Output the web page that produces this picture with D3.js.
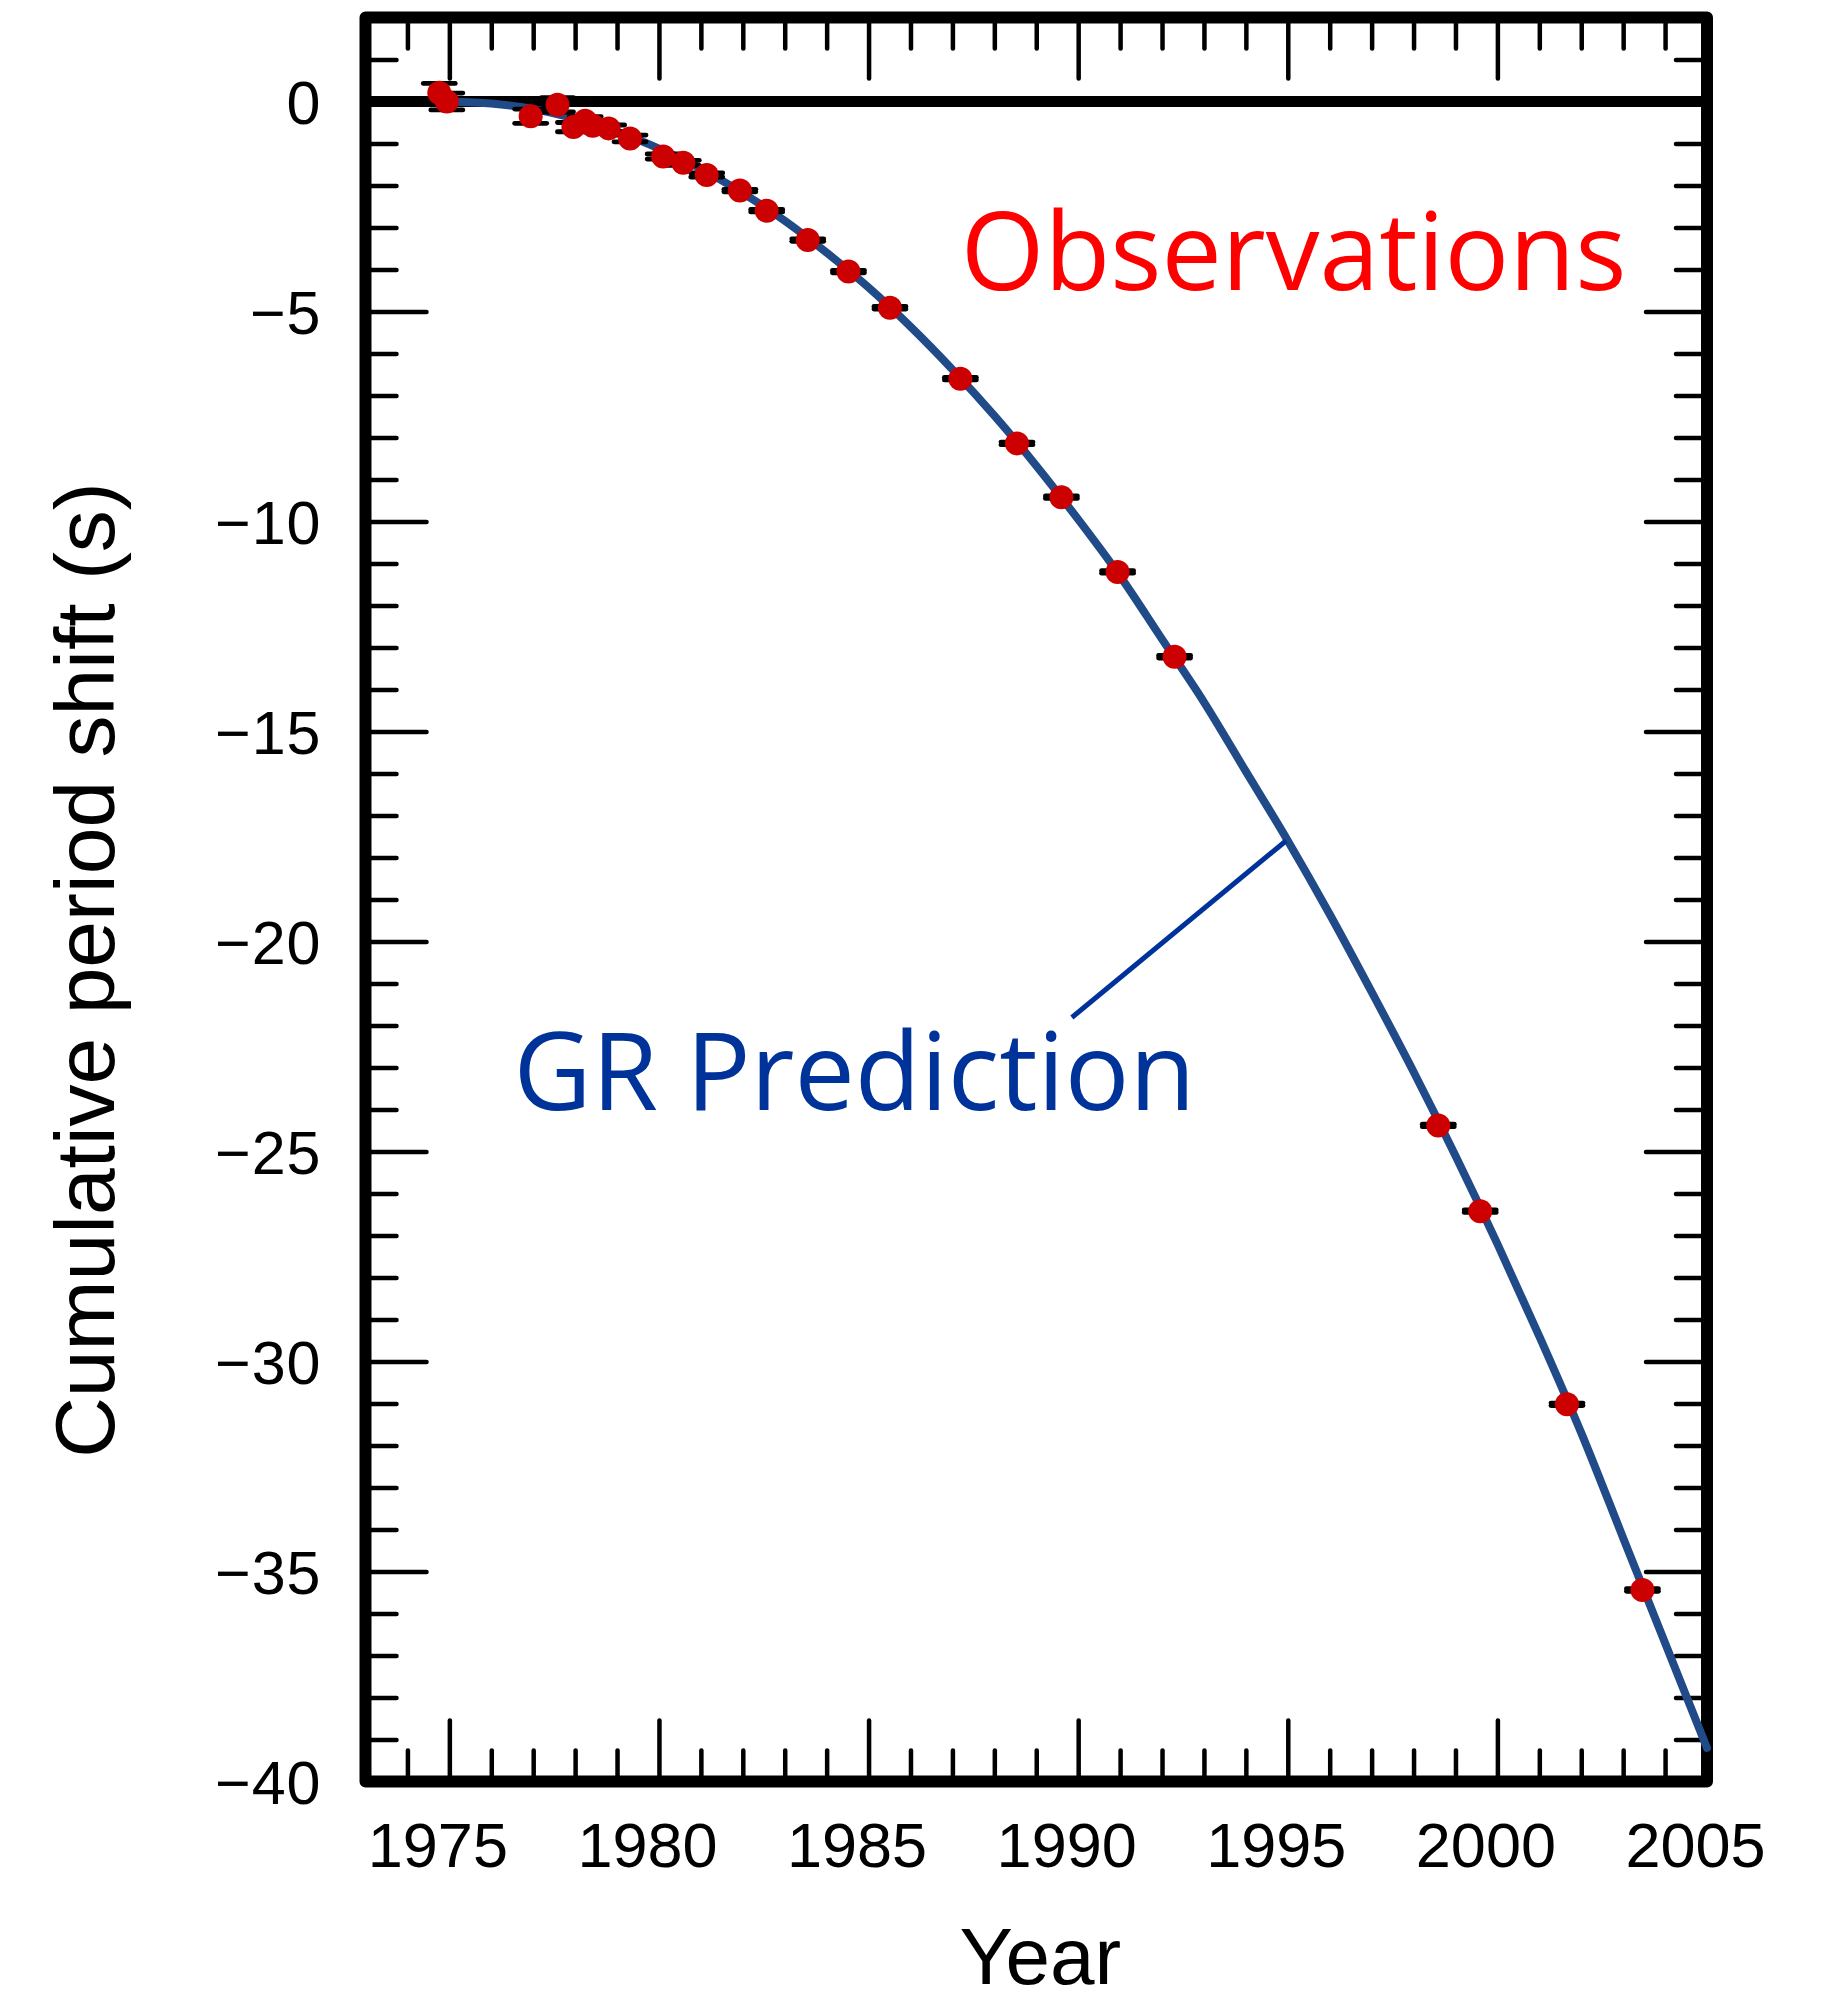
<!DOCTYPE html>
<html>
<head>
<meta charset="utf-8">
<script src="https://cdn.jsdelivr.net/npm/d3@7"></script>
<style>
  html, body { margin: 0; padding: 0; background: #ffffff; }
  svg { display: block; }
</style>
</head>
<body>
<svg id="chart" width="1835" height="2001"></svg>
<script>
// Observed cumulative shift of periastron time (seconds) and its uncertainty
const obsYear  = [1974.76, 1974.94, 1976.94, 1977.58, 1977.96, 1978.24, 1978.42, 1978.80, 1979.31,
                  1980.10, 1980.58, 1981.14, 1981.93, 1982.57, 1983.55, 1984.52, 1985.51, 1987.19,
                  1988.54, 1989.60, 1990.94, 1992.30, 1998.59, 1999.59, 2001.66, 2003.46];
const obsShift = [0.21, 0.00, -0.35, -0.08, -0.61, -0.46, -0.58, -0.64, -0.88,
                  -1.31, -1.46, -1.75, -2.12, -2.60, -3.30, -4.05, -4.91, -6.60,
                  -8.14, -9.42, -11.20, -13.22, -24.38, -26.42, -31.02, -35.44];
const obsError = [0.22, 0.20, 0.17, 0.17, 0.11, 0.10, 0.10, 0.08, 0.08,
                  0.06, 0.06, 0.05, 0.03, 0.03, 0.03, 0.03, 0.03, 0.03,
                  0.03, 0.03, 0.03, 0.03, 0.03, 0.03, 0.03, 0.03];

// General relativity prediction, sampled along the curve
const grYear  = [1975, 1976, 1977, 1978, 1979, 1980, 1981, 1982, 1983, 1984, 1985,
                 1986, 1987, 1988, 1989, 1990, 1991, 1992, 1993, 1994, 1995,
                 1996, 1997, 1998, 1999, 2000, 2001, 2002, 2003, 2004, 2005];
const grShift = [0, -0.05, -0.18, -0.41, -0.72, -1.12, -1.60, -2.18, -2.84, -3.60, -4.43,
                 -5.36, -6.38, -7.48, -8.67, -9.95, -11.30, -12.80, -14.30, -15.95, -17.60,
                 -19.35, -21.20, -23.10, -25.10, -27.20, -29.40, -31.70, -34.20, -36.70, -39.20];

// Axis ticks
const xTickYears  = [1975, 1980, 1985, 1990, 1995, 2000, 2005];
const yTickValues = [0, -5, -10, -15, -20, -25, -30, -35, -40];

const svg = d3.select("#chart");
const plot = { left: 365.5, right: 1707, top: 17.5, bottom: 1781.5 };

const x = d3.scaleLinear().domain([1973, 2005]).range([plot.left, plot.right]);
const y = d3.scaleLinear().domain([2, -40]).range([plot.top, plot.bottom]);

const tickFont = "'Liberation Sans', Arial, Helvetica, sans-serif";
const majorLen = 61, minorLen = 31, tickWidth = 4.5;

const minorYears = d3.range(1974, 2005).filter(v => v % 5 !== 0);
const minorVals  = d3.range(-39, 2).filter(v => v % 5 !== 0);

function styleTicks(g) {
  g.select(".domain").remove();
  g.selectAll(".tick line")
    .attr("stroke", "#000")
    .attr("stroke-width", tickWidth)
    .attr("stroke-linecap", "round");
}

// Minor and major ticks on all four sides, pointing inwards
const axes = svg.append("g").attr("class", "axes");
[[d3.axisBottom, plot.bottom], [d3.axisTop, plot.top]].forEach(([ax, pos]) => {
  axes.append("g").attr("transform", `translate(0,${pos})`)
    .call(ax(x).tickValues(minorYears).tickSize(-minorLen).tickFormat(""))
    .call(styleTicks);
});
axes.append("g").attr("transform", `translate(0,${plot.top})`)
  .call(d3.axisTop(x).tickValues(xTickYears).tickSize(-majorLen).tickFormat(""))
  .call(styleTicks);
[[d3.axisLeft, plot.left], [d3.axisRight, plot.right]].forEach(([ax, pos]) => {
  axes.append("g").attr("transform", `translate(${pos},0)`)
    .call(ax(y).tickValues(minorVals).tickSize(-minorLen).tickFormat(""))
    .call(styleTicks);
});
axes.append("g").attr("transform", `translate(${plot.right},0)`)
  .call(d3.axisRight(y).tickValues(yTickValues).tickSize(-majorLen).tickFormat(""))
  .call(styleTicks);

// Labelled axes
const xAxisG = axes.append("g").attr("transform", `translate(0,${plot.bottom})`)
  .call(d3.axisBottom(x).tickValues(xTickYears).tickSize(-majorLen).tickFormat(d3.format("d")))
  .call(styleTicks);
xAxisG.selectAll("text")
  .attr("font-family", tickFont).attr("font-size", 63).attr("fill", "#000")
  .attr("y", 85).attr("dy", null).attr("dx", -12);

const yAxisG = axes.append("g").attr("transform", `translate(${plot.left},0)`)
  .call(d3.axisLeft(y).tickValues(yTickValues).tickSize(-majorLen).tickFormat(d3.format("d")))
  .call(styleTicks);
yAxisG.selectAll("text")
  .attr("font-family", tickFont).attr("font-size", 61).attr("fill", "#000")
  .attr("x", -44).attr("dy", "0.36em").attr("text-anchor", "end")
  .attr("letter-spacing", 1);

// Zero reference line
svg.append("line")
  .attr("x1", x(1973)).attr("x2", x(2005))
  .attr("y1", y(0)).attr("y2", y(0))
  .attr("stroke", "#000").attr("stroke-width", 11);

// Frame
svg.append("rect")
  .attr("x", plot.left).attr("y", plot.top)
  .attr("width", plot.right - plot.left).attr("height", plot.bottom - plot.top)
  .attr("fill", "none").attr("stroke", "#000").attr("stroke-width", 12)
  .attr("stroke-linejoin", "round");

// GR prediction curve
const grPoints = grYear.map((t, i) => [t, grShift[i]]);
svg.append("path")
  .datum(grPoints)
  .attr("fill", "none")
  .attr("stroke", "#214b88")
  .attr("stroke-width", 8)
  .attr("stroke-linecap", "round")
  .attr("d", d3.line().x(d => x(d[0])).y(d => y(d[1])).curve(d3.curveMonotoneX));

// Observations with error bars
const obs = obsYear.map((t, i) => ({ t, v: obsShift[i], e: obsError[i] }));
const capHalf = 16;
const bars = svg.append("g").attr("stroke", "#000").attr("stroke-width", 4.8).attr("stroke-linecap", "round");
bars.selectAll("line.v").data(obs).join("line").attr("class", "v")
  .attr("x1", d => x(d.t)).attr("x2", d => x(d.t))
  .attr("y1", d => y(d.v + d.e)).attr("y2", d => y(d.v - d.e));
bars.selectAll("line.hi").data(obs).join("line").attr("class", "hi")
  .attr("x1", d => x(d.t) - capHalf).attr("x2", d => x(d.t) + capHalf)
  .attr("y1", d => y(d.v + d.e)).attr("y2", d => y(d.v + d.e));
bars.selectAll("line.lo").data(obs).join("line").attr("class", "lo")
  .attr("x1", d => x(d.t) - capHalf).attr("x2", d => x(d.t) + capHalf)
  .attr("y1", d => y(d.v - d.e)).attr("y2", d => y(d.v - d.e));

svg.append("g").selectAll("circle").data(obs).join("circle")
  .attr("cx", d => x(d.t)).attr("cy", d => y(d.v))
  .attr("r", 12).attr("fill", "#cc0000");

// Annotations
const labelFont = "'Open Sans', 'Noto Sans', sans-serif";
svg.append("text")
  .attr("x", x(1987.2)).attr("y", y(-4.49))
  .attr("font-family", labelFont).attr("font-size", 107.5)
  .attr("fill", "#ff0000")
  .text("Observations");

svg.append("line")
  .attr("x1", x(1989.85)).attr("y1", y(-21.81))
  .attr("x2", x(1994.96)).attr("y2", y(-17.6))
  .attr("stroke", "#003399").attr("stroke-width", 5);

svg.append("text")
  .attr("x", x(1976.53)).attr("y", y(-24.0))
  .attr("font-family", labelFont).attr("font-size", 107.5)
  .attr("fill", "#003399")
  .text("GR Prediction");

// Axis titles
svg.append("text")
  .attr("x", (plot.left + plot.right) / 2 + 4).attr("y", 1984)
  .attr("text-anchor", "middle")
  .attr("font-family", tickFont).attr("font-size", 80).attr("fill", "#000")
  .text("Year");

svg.append("text")
  .attr("transform", "translate(114,970) rotate(-90)")
  .attr("text-anchor", "middle")
  .attr("font-family", tickFont).attr("font-size", 84).attr("fill", "#000")
  .text("Cumulative period shift (s)");
</script>
</body>
</html>
